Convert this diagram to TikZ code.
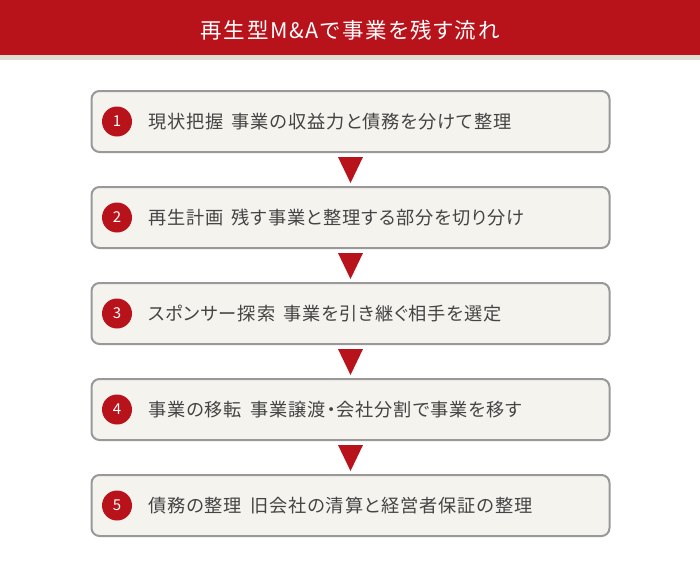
\documentclass[tikz,border=0pt]{standalone}
\usepackage{fontspec}
\usetikzlibrary{calc}
\setmainfont{Noto Sans CJK JP}
\newfontfamily\bodyfont[RawFeature=+palt, LetterSpace=5]{Noto Sans CJK JP}
\newfontfamily\titlefont[RawFeature=+palt, LetterSpace=8]{Noto Sans CJK JP}
\newcommand{\gapsp}{\hspace{8pt}}
\definecolor{hdrred}{HTML}{B8121B}
\definecolor{beige}{HTML}{E0DDD0}
\definecolor{boxfill}{HTML}{F4F3EE}
\definecolor{boxline}{HTML}{999999}
\definecolor{txt}{HTML}{444444}
\tikzset{
  stepbox/.style={draw=boxline, line width=2pt, fill=boxfill, rounded corners=8pt,
    minimum width=518pt, minimum height=61pt, inner sep=0pt},
  numdot/.style={circle, fill=hdrred, minimum size=30pt, inner sep=0pt,
    text=white, font=\fontsize{15pt}{15pt}\selectfont},
  steptext/.style={anchor=west, text=txt, inner sep=0pt, font=\bodyfont\fontsize{18.2pt}{19pt}\selectfont},
  tri/.style={fill=hdrred, draw=none}
}
\begin{document}
\begin{tikzpicture}[x=1pt,y=1pt]
\useasboundingbox (0,0) rectangle (700,-566);
\fill[white] (0,0) rectangle (700,-566);
\fill[hdrred] (0,0) rectangle (700,-55);
\fill[beige] (0,-55) rectangle (700,-60);
\node[text=white, font=\titlefont\fontsize{21.5pt}{22pt}\selectfont] (title) at (350,-30.5) {再生型M\&Aで事業を残す流れ};
\foreach \i/\t [evaluate=\i as \yc using -121.5-96*(\i-1)] in {
  1/現状把握\gapsp 事業の収益力と債務を分けて整理,
  2/再生計画\gapsp 残す事業と整理する部分を切り分け,
  3/スポンサー探索\gapsp 事業を引き継ぐ相手を選定,
  4/事業の移転\gapsp 事業譲渡・会社分割で事業を移す,
  5/債務の整理\gapsp 旧会社の清算と経営者保証の整理}{
  \node[stepbox] (b\i) at (350.5,\yc) {};
  \node[numdot] (n\i) at (117,\yc) {\i};
  \node[steptext] (t\i) at (148,\yc) {\t};
}
\foreach \i/\j in {1/2,2/3,3/4,4/5}{
  \path (b\i.south) ++(0,-4) coordinate (ta\i);
  \fill[tri] ($(ta\i)+(-12.5,0)$) -- ($(ta\i)+(12.5,0)$) -- ($(ta\i)+(0,-26)$) -- cycle;
}
\end{tikzpicture}
\end{document}
